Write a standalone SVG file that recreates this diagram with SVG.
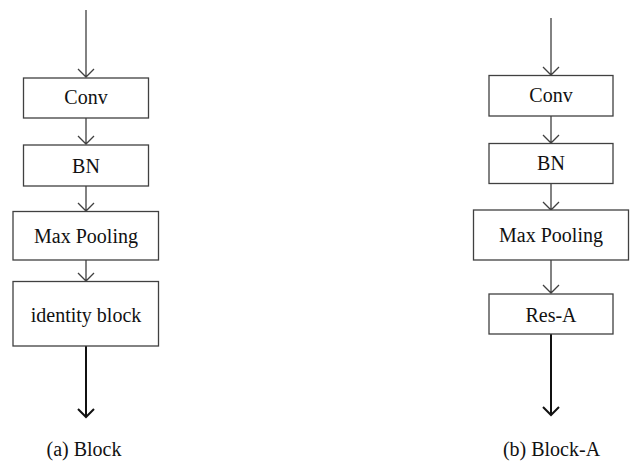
<svg xmlns="http://www.w3.org/2000/svg" width="633" height="463" viewBox="0 0 633 463">
<style>
.box{fill:#fff;stroke:#404040;stroke-width:1.3}
.t{font-family:"Liberation Serif","Times New Roman",serif;font-size:20px;fill:#111;text-anchor:middle}
.cap{font-family:"Liberation Serif","Times New Roman",serif;font-size:20px;fill:#111;text-anchor:middle}
.ln{stroke:#404040;stroke-width:1.3;fill:none}
.thick{stroke:#111;stroke-width:2;fill:none}
</style>
<rect width="633" height="463" fill="#fff"/>
<g id="connectors">
<path class="ln" d="M86 10V77M78 69L86 77L94 69"/>
<path class="ln" d="M86 118V144M78 136L86 144L94 136"/>
<path class="ln" d="M86 186V211M78 203L86 211L94 203"/>
<path class="ln" d="M86 260V281M78 273L86 281L94 273"/>
<path class="thick" d="M86 346V417M78 409L86 417L94 409"/>
<path class="ln" d="M551 18V75M543 67L551 75L559 67"/>
<path class="ln" d="M551 116V143M543 135L551 143L559 135"/>
<path class="ln" d="M551 183V210M543 202L551 210L559 202"/>
<path class="ln" d="M551 260V293M543 285L551 293L559 285"/>
<path class="thick" d="M551 334V415M543 407L551 415L559 407"/>
</g>
<g id="a-conv"><rect class="box" x="23.5" y="78" width="125" height="40"/><text class="t" x="86" y="104">Conv</text></g>
<g id="a-bn"><rect class="box" x="23.5" y="145" width="125" height="41"/><text class="t" x="86" y="172.5">BN</text></g>
<g id="a-maxpool"><rect class="box" x="13" y="211.5" width="145.5" height="48.5"/><text class="t" x="86" y="242.5">Max Pooling</text></g>
<g id="a-identity"><rect class="box" x="13" y="281.5" width="145.5" height="64.5"/><text class="t" x="86" y="321.5">identity block</text></g>
<g id="b-conv"><rect class="box" x="489" y="75.5" width="124" height="40.5"/><text class="t" x="551" y="101.5">Conv</text></g>
<g id="b-bn"><rect class="box" x="489" y="143.5" width="124" height="40"/><text class="t" x="551" y="169.5">BN</text></g>
<g id="b-maxpool"><rect class="box" x="473.5" y="210" width="155" height="50"/><text class="t" x="551" y="241.5">Max Pooling</text></g>
<g id="b-resa"><rect class="box" x="489" y="294" width="124" height="40"/><text class="t" x="551" y="321.5">Res-A</text></g>
<text class="cap" x="84" y="456">(a) Block</text>
<text class="cap" x="551.5" y="456">(b) Block-A</text>
</svg>
